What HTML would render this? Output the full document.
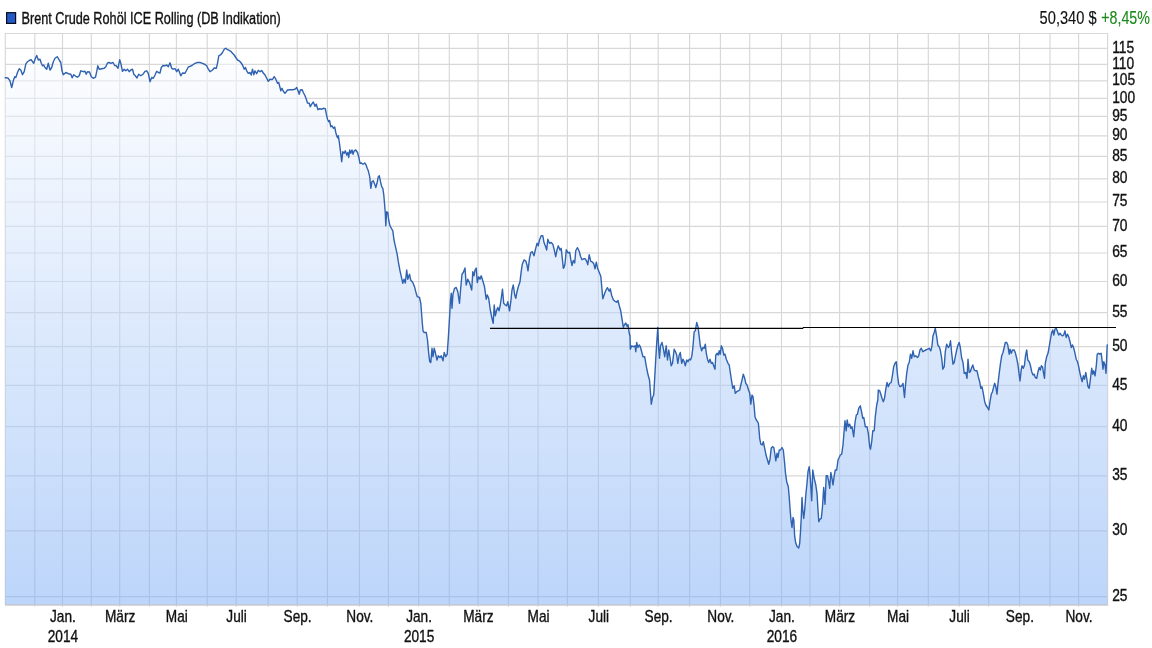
<!DOCTYPE html>
<html lang="de"><head><meta charset="utf-8"><title>Brent Crude Rohöl ICE Rolling (DB Indikation)</title>
<style>
html,body{margin:0;padding:0;background:#fff;}
body{width:1152px;height:648px;overflow:hidden;font-family:"Liberation Sans",sans-serif;}
svg{display:block;}
text{font-family:"Liberation Sans",sans-serif;fill:#111;stroke:#111;stroke-width:0.35px;}
.ax{font-size:15.7px;}
.ay{font-size:15.6px;}
.g{stroke:#d8d8d8;stroke-width:1.15;fill:none;}
</style></head><body>
<svg width="1152" height="648" viewBox="0 0 1152 648">
<defs>
<linearGradient id="fg" gradientUnits="userSpaceOnUse" x1="0" y1="33" x2="0" y2="605">
<stop offset="0" stop-color="#ffffff" stop-opacity="0.5"/>
<stop offset="1" stop-color="#79abf5" stop-opacity="0.5"/>
</linearGradient>
</defs>
<rect width="1152" height="648" fill="#fff"/>
<path class="g" d="M34.8,33.5 V606.6999999999999 M62.5,33.5 V606.6999999999999 M91.3,33.5 V606.6999999999999 M119.7,33.5 V606.6999999999999 M149.4,33.5 V606.6999999999999 M176.4,33.5 V606.6999999999999 M207.2,33.5 V606.6999999999999 M236.2,33.5 V606.6999999999999 M268.2,33.5 V606.6999999999999 M297.2,33.5 V606.6999999999999 M327.4,33.5 V606.6999999999999 M359.4,33.5 V606.6999999999999 M388.4,33.5 V606.6999999999999 M418.7,33.5 V606.6999999999999 M449.3,33.5 V606.6999999999999 M478,33.5 V606.6999999999999 M508.5,33.5 V606.6999999999999 M538.1,33.5 V606.6999999999999 M567.4,33.5 V606.6999999999999 M598.4,33.5 V606.6999999999999 M630.3,33.5 V606.6999999999999 M658.2,33.5 V606.6999999999999 M689.6,33.5 V606.6999999999999 M720.4,33.5 V606.6999999999999 M749.7,33.5 V606.6999999999999 M781.5,33.5 V606.6999999999999 M810,33.5 V606.6999999999999 M839.6,33.5 V606.6999999999999 M869.6,33.5 V606.6999999999999 M897.6,33.5 V606.6999999999999 M928.3,33.5 V606.6999999999999 M959.2,33.5 V606.6999999999999 M988.6,33.5 V606.6999999999999 M1019.5,33.5 V606.6999999999999 M1050,33.5 V606.6999999999999 M1078.6,33.5 V606.6999999999999 M5.3,48.3 H1107.6 M5.3,64.4 H1107.6 M5.3,80.9 H1107.6 M5.3,98.4 H1107.6 M5.3,116.4 H1107.6 M5.3,135.8 H1107.6 M5.3,156.3 H1107.6 M5.3,178.8 H1107.6 M5.3,202 H1107.6 M5.3,226.3 H1107.6 M5.3,253 H1107.6 M5.3,281.5 H1107.6 M5.3,312.6 H1107.6 M5.3,346.6 H1107.6 M5.3,385.4 H1107.6 M5.3,426.6 H1107.6 M5.3,475.8 H1107.6 M5.3,530.8 H1107.6 M5.3,596.6 H1107.6"/>
<path class="g" d="M5.3,604.3 V33.5 H1107.6 V604.3" />
<path d="M4.8999999999999995,604.9 H1108.1999999999998" stroke="#cdcdd2" stroke-width="1.7" fill="none"/>
<path d="M5.3,77.8 L6.3,77.8 L8.3,78.3 L10.0,80.8 L11.7,87.5 L13.3,80.8 L14.7,76.7 L15.8,77.5 L17.5,72.5 L19.2,68.7 L20.8,70.0 L22.5,74.7 L24.2,71.7 L25.8,64.2 L27.5,61.7 L29.2,60.5 L31.2,59.7 L32.5,61.7 L33.8,63.3 L35.0,59.2 L36.7,55.5 L38.3,60.0 L40.0,59.2 L41.3,63.3 L42.5,65.8 L43.7,65.0 L45.0,67.5 L46.7,69.2 L48.3,63.3 L50.0,70.0 L51.7,67.5 L53.3,61.7 L55.0,58.3 L57.2,56.7 L59.2,60.0 L60.8,62.5 L62.0,70.8 L63.3,74.7 L65.8,72.5 L68.3,73.7 L70.8,74.2 L72.2,77.8 L73.7,74.7 L75.8,76.3 L77.5,77.2 L79.2,75.8 L80.8,70.8 L83.3,71.7 L85.0,71.3 L86.2,74.2 L87.5,71.7 L89.5,72.0 L91.3,76.7 L93.3,78.3 L95.5,77.2 L96.7,71.7 L97.8,65.8 L99.2,69.2 L101.7,68.7 L104.2,68.3 L105.8,66.7 L107.5,63.0 L109.2,62.5 L110.8,63.3 L113.0,62.5 L114.7,65.5 L116.3,65.8 L118.0,68.3 L119.7,59.7 L120.8,63.3 L122.5,71.3 L124.2,69.2 L125.8,70.8 L127.5,69.2 L129.2,71.7 L130.8,70.0 L132.5,69.2 L133.8,74.2 L135.3,75.8 L137.0,78.0 L138.7,74.2 L140.8,75.8 L143.0,74.2 L145.0,71.3 L146.7,70.8 L148.3,73.3 L150.0,81.7 L151.7,77.5 L153.3,78.3 L155.0,75.0 L156.7,71.3 L158.3,72.5 L160.0,73.0 L161.3,67.5 L163.0,65.5 L165.0,65.8 L166.7,65.0 L168.3,66.7 L170.0,62.8 L171.7,68.3 L173.3,69.2 L175.0,68.7 L176.7,71.7 L178.3,69.2 L180.8,75.8 L182.5,73.0 L185.0,73.3 L186.7,70.0 L188.3,67.0 L190.0,66.3 L192.0,65.5 L192.5,65.0 L195.0,63.3 L197.5,62.5 L200.0,62.5 L202.5,63.3 L205.0,64.5 L206.7,65.8 L208.3,69.2 L210.0,71.7 L212.5,70.0 L214.2,68.0 L216.3,68.3 L217.5,63.3 L218.8,55.8 L220.8,54.7 L222.5,52.5 L224.2,49.2 L225.8,48.3 L227.5,49.7 L229.2,50.3 L230.8,51.3 L232.5,53.3 L234.2,55.0 L235.8,57.5 L237.5,60.0 L239.2,60.8 L240.8,62.5 L242.5,65.0 L244.2,69.2 L245.5,67.5 L246.7,70.8 L248.3,73.3 L250.0,72.5 L251.2,75.0 L252.5,69.2 L253.8,74.7 L255.0,70.8 L256.7,73.7 L258.3,70.3 L260.0,71.7 L261.7,70.5 L263.3,73.0 L265.0,75.0 L266.7,78.3 L268.3,81.3 L270.0,79.2 L272.5,79.5 L274.2,76.7 L275.8,79.2 L277.5,83.3 L278.7,82.5 L280.0,87.5 L280.8,90.8 L282.0,88.3 L283.3,91.3 L285.0,93.3 L287.5,90.0 L290.0,89.7 L292.5,89.7 L295.0,89.2 L296.7,87.5 L298.0,90.8 L299.2,94.2 L300.3,90.0 L302.2,89.7 L303.3,92.5 L305.0,95.8 L306.3,99.2 L307.5,103.0 L309.2,103.3 L310.3,106.7 L311.7,104.2 L313.3,102.0 L315.0,106.3 L316.3,104.2 L318.0,109.7 L319.7,108.7 L321.7,109.2 L323.3,108.3 L325.3,108.7 L326.3,114.2 L327.5,119.2 L328.7,121.7 L329.5,120.5 L330.8,126.7 L332.0,125.8 L333.3,128.3 L334.7,127.0 L335.8,132.5 L337.0,136.7 L337.8,138.0 L338.3,135.8 L339.5,143.3 L340.5,151.7 L341.7,161.7 L342.8,151.7 L344.2,153.3 L345.3,150.8 L346.7,155.0 L347.8,152.5 L348.7,157.5 L349.7,150.0 L350.8,153.3 L352.0,150.0 L353.0,154.2 L354.2,150.8 L355.8,150.0 L357.5,152.5 L358.7,156.7 L360.0,163.3 L361.3,163.0 L363.0,164.2 L364.7,163.0 L366.0,164.7 L367.2,168.3 L368.3,170.8 L369.7,176.7 L370.8,188.3 L372.0,181.7 L373.3,180.8 L374.7,184.2 L375.8,187.5 L377.0,183.3 L378.3,176.7 L379.3,175.8 L380.5,181.7 L381.7,186.7 L382.8,188.3 L383.8,195.0 L384.5,203.3 L385.3,213.3 L385.8,225.8 L386.7,211.7 L387.8,212.5 L388.7,220.0 L390.0,225.8 L391.2,228.0 L392.8,230.8 L394.0,240.0 L395.3,245.8 L397.0,253.3 L398.3,261.7 L400.0,270.8 L401.7,278.3 L402.8,283.3 L404.0,279.2 L405.3,283.0 L406.7,270.0 L407.8,279.2 L409.5,274.2 L410.7,280.0 L412.8,282.5 L414.5,286.7 L416.2,293.3 L417.3,296.7 L419.5,297.5 L420.8,303.3 L421.7,315.0 L422.3,323.0 L423.0,330.8 L424.2,332.5 L426.3,332.5 L427.5,340.0 L428.7,353.3 L429.7,361.7 L430.8,362.5 L432.0,348.3 L433.0,356.7 L434.2,348.3 L435.5,353.3 L437.0,360.0 L438.3,355.8 L440.0,357.5 L441.3,355.8 L443.0,360.8 L444.2,352.5 L445.8,356.7 L447.2,354.2 L448.3,338.3 L449.5,318.3 L450.5,300.0 L451.3,293.3 L452.0,308.3 L453.0,294.2 L454.5,288.3 L456.2,287.5 L457.8,291.7 L459.5,303.3 L460.7,288.3 L462.0,274.2 L463.3,272.5 L465.0,268.0 L466.2,285.0 L467.8,279.2 L469.5,282.5 L471.7,290.0 L472.8,271.7 L474.0,275.8 L475.0,270.0 L476.2,268.0 L477.3,282.5 L478.7,276.7 L480.0,279.2 L481.2,275.8 L482.8,280.8 L484.5,286.7 L486.2,299.2 L487.3,295.0 L488.7,298.3 L490.3,310.0 L492.0,318.3 L493.2,323.3 L494.2,305.0 L495.3,315.8 L496.7,310.0 L497.8,307.5 L499.0,310.8 L500.3,305.0 L501.5,296.7 L502.5,289.2 L503.7,303.3 L505.3,305.0 L506.7,305.8 L507.8,301.7 L509.5,310.8 L510.8,301.7 L512.0,290.0 L513.3,285.0 L514.7,295.0 L515.8,298.3 L517.0,291.7 L518.3,286.7 L520.0,281.7 L521.2,271.7 L522.3,264.2 L524.0,260.0 L525.7,260.8 L527.0,265.0 L528.0,270.8 L529.5,258.3 L530.8,252.5 L532.3,251.7 L534.0,255.8 L535.3,250.0 L537.0,243.3 L538.2,245.8 L539.5,240.0 L541.2,235.8 L542.8,235.8 L544.0,242.5 L545.3,245.8 L546.7,250.0 L547.8,239.2 L549.5,243.3 L551.2,242.5 L552.8,244.2 L554.5,250.8 L555.7,256.7 L557.0,250.0 L558.3,245.8 L560.0,250.0 L561.2,248.3 L562.3,258.3 L563.3,268.3 L564.0,267.5 L565.0,263.8 L566.3,249.7 L568.0,253.0 L569.7,252.2 L570.8,259.7 L572.0,265.5 L573.3,260.5 L574.7,263.0 L575.8,250.5 L577.5,247.7 L579.2,251.3 L580.5,256.3 L582.0,259.7 L583.7,258.8 L585.3,258.8 L586.7,261.3 L587.8,264.7 L589.2,254.7 L590.8,261.3 L592.5,262.2 L593.8,263.8 L595.0,268.8 L596.3,262.2 L597.5,268.0 L599.2,272.2 L600.8,276.3 L601.7,286.3 L602.8,298.8 L604.2,294.7 L605.8,290.5 L607.5,287.7 L609.2,291.3 L610.3,288.8 L611.7,295.5 L613.3,299.7 L615.0,301.3 L616.7,302.2 L618.0,300.5 L619.2,305.5 L620.8,311.3 L622.0,318.8 L623.3,327.2 L624.5,324.7 L625.8,323.0 L627.0,326.3 L628.0,324.7 L629.2,333.0 L630.0,336.0 L630.3,349.2 L631.7,345.8 L633.3,346.7 L635.0,345.8 L635.8,351.7 L636.7,342.5 L638.0,347.5 L639.2,345.0 L640.3,346.7 L641.7,351.7 L643.0,356.7 L644.7,356.7 L645.8,363.3 L647.0,370.0 L648.3,375.8 L649.5,380.0 L650.5,393.3 L651.3,404.2 L652.5,397.5 L653.7,395.0 L654.7,378.3 L655.8,358.3 L656.7,343.3 L657.8,327.5 L658.7,348.3 L659.5,358.3 L660.5,345.8 L662.0,342.5 L663.3,348.3 L664.7,356.7 L666.2,345.8 L667.5,360.0 L668.8,350.0 L670.0,357.5 L671.2,365.8 L672.5,363.3 L674.2,349.2 L675.5,351.7 L676.7,355.0 L677.8,363.3 L679.2,355.0 L680.3,352.5 L681.7,363.3 L683.0,359.2 L684.2,361.7 L685.3,365.8 L686.7,360.0 L688.0,361.7 L689.2,359.2 L690.5,360.0 L691.7,356.7 L692.8,348.3 L694.2,331.7 L695.3,330.8 L696.7,322.5 L698.0,326.7 L699.2,336.7 L700.3,345.8 L701.7,350.8 L703.0,347.5 L704.2,348.3 L705.3,344.2 L706.3,353.3 L707.5,359.2 L708.7,362.5 L710.0,359.2 L711.3,363.3 L712.5,362.5 L713.7,365.8 L715.0,369.2 L715.8,355.0 L717.2,353.3 L718.3,355.0 L719.2,350.8 L720.3,354.2 L721.3,345.8 L722.5,348.3 L723.8,355.0 L725.0,354.2 L726.3,359.2 L728.0,363.3 L729.2,365.0 L730.3,372.5 L731.7,381.7 L732.8,388.3 L734.2,385.8 L735.3,393.3 L736.7,391.7 L738.3,390.8 L739.7,390.0 L740.8,385.0 L742.2,379.2 L743.3,374.2 L744.7,378.3 L745.8,383.3 L747.0,385.0 L748.3,389.2 L749.7,393.3 L750.8,404.2 L752.0,395.0 L753.0,396.7 L754.2,406.7 L755.0,416.7 L756.3,420.0 L757.5,421.7 L758.3,423.0 L758.7,426.7 L759.7,438.3 L760.8,444.2 L762.2,445.0 L763.3,441.7 L764.7,448.3 L766.2,455.8 L767.5,460.0 L768.7,464.2 L770.0,459.2 L771.2,448.3 L772.5,446.7 L773.8,447.5 L775.0,455.0 L775.8,460.8 L777.0,453.3 L778.0,457.5 L779.2,450.0 L780.5,450.0 L782.0,447.5 L783.3,450.0 L784.5,461.7 L785.5,473.3 L786.7,481.7 L788.3,486.7 L789.2,496.7 L790.0,508.0 L790.8,518.3 L792.0,527.5 L793.0,517.5 L793.8,520.0 L794.7,536.7 L795.8,543.3 L797.2,546.7 L798.7,548.0 L799.7,543.3 L800.5,531.7 L801.3,516.7 L802.0,497.5 L802.8,510.0 L803.7,518.3 L804.7,510.0 L805.8,495.0 L807.0,483.3 L808.0,471.7 L809.2,466.7 L810.3,478.3 L811.7,500.8 L812.8,470.0 L814.2,478.3 L815.8,485.0 L817.0,493.3 L818.0,510.0 L818.8,521.7 L820.0,519.2 L821.3,518.3 L822.5,506.7 L823.7,487.5 L825.0,504.2 L826.2,475.8 L827.5,475.8 L828.7,481.7 L829.7,488.3 L830.8,472.5 L832.0,478.3 L833.0,485.0 L834.2,475.8 L835.3,470.0 L836.7,470.0 L838.0,460.0 L839.2,457.5 L840.3,455.0 L841.7,454.2 L843.0,445.0 L844.2,430.0 L845.0,420.8 L846.2,430.8 L847.2,420.0 L848.3,426.7 L849.7,424.2 L850.8,428.3 L852.0,426.7 L853.7,436.7 L855.0,422.5 L856.3,415.0 L857.5,414.2 L858.7,408.3 L860.3,405.8 L861.7,412.5 L862.8,418.3 L863.8,417.5 L865.3,426.7 L867.0,426.7 L868.3,433.3 L869.7,446.7 L870.5,449.2 L871.7,441.7 L872.8,430.8 L874.2,430.8 L875.3,416.7 L876.7,405.0 L877.8,400.0 L878.3,390.0 L879.7,390.8 L880.8,394.2 L882.0,398.3 L883.3,401.7 L884.5,398.3 L885.8,389.2 L887.0,382.5 L888.3,386.7 L889.7,383.3 L891.2,382.5 L892.5,375.0 L893.7,366.7 L895.0,363.3 L896.3,361.7 L897.5,375.0 L898.7,384.2 L900.0,386.7 L901.7,385.8 L903.0,383.3 L904.5,397.5 L905.5,385.0 L906.7,373.3 L908.0,365.0 L909.2,362.5 L910.5,354.2 L911.7,358.3 L913.0,350.8 L914.2,356.7 L915.8,355.8 L917.5,357.5 L918.7,355.8 L920.0,350.0 L921.3,348.3 L922.8,351.7 L924.2,350.8 L925.8,350.0 L927.5,349.2 L929.2,348.3 L930.8,350.8 L932.0,345.8 L933.0,335.8 L934.2,332.5 L935.3,328.3 L936.7,336.7 L937.8,345.0 L939.2,346.7 L940.3,350.0 L941.7,358.3 L942.8,369.2 L944.2,366.7 L945.3,351.7 L946.7,344.2 L948.3,347.5 L949.5,345.8 L950.5,340.8 L951.7,353.3 L953.0,364.2 L954.2,362.5 L955.3,356.7 L956.7,350.0 L958.0,345.0 L959.2,342.5 L960.3,347.5 L961.7,358.3 L963.0,362.5 L964.2,373.3 L965.8,372.5 L967.0,378.3 L968.0,359.2 L969.2,372.5 L970.3,371.7 L971.7,367.5 L972.8,365.0 L974.2,370.0 L975.3,370.8 L977.0,370.8 L978.3,376.7 L979.7,381.7 L980.8,388.3 L982.0,386.7 L983.3,393.3 L984.7,401.7 L985.8,405.0 L987.5,407.5 L988.8,410.0 L990.0,401.7 L991.3,394.2 L992.5,391.7 L993.7,386.7 L994.7,383.3 L995.8,386.7 L997.0,394.2 L998.0,383.3 L999.2,373.3 L1000.5,363.3 L1001.7,355.8 L1003.0,352.5 L1004.2,347.5 L1005.3,342.5 L1006.7,342.5 L1007.8,345.0 L1009.2,354.2 L1010.0,349.2 L1011.3,353.3 L1012.5,350.0 L1014.2,350.0 L1015.5,353.3 L1016.7,358.3 L1018.0,365.0 L1019.2,375.0 L1020.0,380.8 L1021.2,370.0 L1022.0,365.8 L1023.3,368.3 L1024.5,365.0 L1025.5,355.8 L1026.7,350.0 L1027.8,360.0 L1029.2,361.7 L1030.3,365.0 L1031.7,371.7 L1033.0,375.0 L1034.2,374.2 L1035.3,377.5 L1036.7,378.3 L1038.0,371.7 L1039.2,367.5 L1040.3,370.0 L1041.3,365.8 L1042.0,366.7 L1042.5,366.7 L1043.3,371.7 L1044.5,378.3 L1045.3,363.3 L1046.7,356.7 L1048.0,353.3 L1049.2,346.7 L1050.3,340.0 L1051.7,332.5 L1052.8,330.0 L1053.8,335.0 L1055.0,329.2 L1056.3,328.3 L1057.5,331.7 L1058.7,335.0 L1060.0,333.3 L1061.3,335.0 L1062.5,335.8 L1063.7,335.0 L1065.0,330.8 L1066.2,337.5 L1067.5,334.2 L1068.7,336.7 L1070.0,341.7 L1071.3,347.5 L1072.5,345.0 L1073.8,348.3 L1075.0,353.3 L1076.2,359.2 L1077.5,361.7 L1078.7,366.7 L1080.0,373.3 L1081.2,378.3 L1082.2,381.7 L1083.3,375.8 L1084.5,379.2 L1085.8,372.5 L1087.0,380.0 L1088.0,386.7 L1089.2,388.3 L1090.3,380.0 L1091.7,368.3 L1092.8,374.2 L1093.8,370.8 L1095.0,375.8 L1096.2,366.7 L1097.2,354.2 L1098.3,353.3 L1099.7,354.2 L1101.2,353.3 L1102.2,361.7 L1103.0,369.2 L1103.8,361.7 L1105.0,365.0 L1106.0,373.3 L1106.7,356.7 L1107.2,345.0 L1107.4,345.0 L1107.4,604.3 L5.3,604.3 Z" fill="url(#fg)"/>
<path d="M5.3,77.8 L6.3,77.8 L8.3,78.3 L10.0,80.8 L11.7,87.5 L13.3,80.8 L14.7,76.7 L15.8,77.5 L17.5,72.5 L19.2,68.7 L20.8,70.0 L22.5,74.7 L24.2,71.7 L25.8,64.2 L27.5,61.7 L29.2,60.5 L31.2,59.7 L32.5,61.7 L33.8,63.3 L35.0,59.2 L36.7,55.5 L38.3,60.0 L40.0,59.2 L41.3,63.3 L42.5,65.8 L43.7,65.0 L45.0,67.5 L46.7,69.2 L48.3,63.3 L50.0,70.0 L51.7,67.5 L53.3,61.7 L55.0,58.3 L57.2,56.7 L59.2,60.0 L60.8,62.5 L62.0,70.8 L63.3,74.7 L65.8,72.5 L68.3,73.7 L70.8,74.2 L72.2,77.8 L73.7,74.7 L75.8,76.3 L77.5,77.2 L79.2,75.8 L80.8,70.8 L83.3,71.7 L85.0,71.3 L86.2,74.2 L87.5,71.7 L89.5,72.0 L91.3,76.7 L93.3,78.3 L95.5,77.2 L96.7,71.7 L97.8,65.8 L99.2,69.2 L101.7,68.7 L104.2,68.3 L105.8,66.7 L107.5,63.0 L109.2,62.5 L110.8,63.3 L113.0,62.5 L114.7,65.5 L116.3,65.8 L118.0,68.3 L119.7,59.7 L120.8,63.3 L122.5,71.3 L124.2,69.2 L125.8,70.8 L127.5,69.2 L129.2,71.7 L130.8,70.0 L132.5,69.2 L133.8,74.2 L135.3,75.8 L137.0,78.0 L138.7,74.2 L140.8,75.8 L143.0,74.2 L145.0,71.3 L146.7,70.8 L148.3,73.3 L150.0,81.7 L151.7,77.5 L153.3,78.3 L155.0,75.0 L156.7,71.3 L158.3,72.5 L160.0,73.0 L161.3,67.5 L163.0,65.5 L165.0,65.8 L166.7,65.0 L168.3,66.7 L170.0,62.8 L171.7,68.3 L173.3,69.2 L175.0,68.7 L176.7,71.7 L178.3,69.2 L180.8,75.8 L182.5,73.0 L185.0,73.3 L186.7,70.0 L188.3,67.0 L190.0,66.3 L192.0,65.5 L192.5,65.0 L195.0,63.3 L197.5,62.5 L200.0,62.5 L202.5,63.3 L205.0,64.5 L206.7,65.8 L208.3,69.2 L210.0,71.7 L212.5,70.0 L214.2,68.0 L216.3,68.3 L217.5,63.3 L218.8,55.8 L220.8,54.7 L222.5,52.5 L224.2,49.2 L225.8,48.3 L227.5,49.7 L229.2,50.3 L230.8,51.3 L232.5,53.3 L234.2,55.0 L235.8,57.5 L237.5,60.0 L239.2,60.8 L240.8,62.5 L242.5,65.0 L244.2,69.2 L245.5,67.5 L246.7,70.8 L248.3,73.3 L250.0,72.5 L251.2,75.0 L252.5,69.2 L253.8,74.7 L255.0,70.8 L256.7,73.7 L258.3,70.3 L260.0,71.7 L261.7,70.5 L263.3,73.0 L265.0,75.0 L266.7,78.3 L268.3,81.3 L270.0,79.2 L272.5,79.5 L274.2,76.7 L275.8,79.2 L277.5,83.3 L278.7,82.5 L280.0,87.5 L280.8,90.8 L282.0,88.3 L283.3,91.3 L285.0,93.3 L287.5,90.0 L290.0,89.7 L292.5,89.7 L295.0,89.2 L296.7,87.5 L298.0,90.8 L299.2,94.2 L300.3,90.0 L302.2,89.7 L303.3,92.5 L305.0,95.8 L306.3,99.2 L307.5,103.0 L309.2,103.3 L310.3,106.7 L311.7,104.2 L313.3,102.0 L315.0,106.3 L316.3,104.2 L318.0,109.7 L319.7,108.7 L321.7,109.2 L323.3,108.3 L325.3,108.7 L326.3,114.2 L327.5,119.2 L328.7,121.7 L329.5,120.5 L330.8,126.7 L332.0,125.8 L333.3,128.3 L334.7,127.0 L335.8,132.5 L337.0,136.7 L337.8,138.0 L338.3,135.8 L339.5,143.3 L340.5,151.7 L341.7,161.7 L342.8,151.7 L344.2,153.3 L345.3,150.8 L346.7,155.0 L347.8,152.5 L348.7,157.5 L349.7,150.0 L350.8,153.3 L352.0,150.0 L353.0,154.2 L354.2,150.8 L355.8,150.0 L357.5,152.5 L358.7,156.7 L360.0,163.3 L361.3,163.0 L363.0,164.2 L364.7,163.0 L366.0,164.7 L367.2,168.3 L368.3,170.8 L369.7,176.7 L370.8,188.3 L372.0,181.7 L373.3,180.8 L374.7,184.2 L375.8,187.5 L377.0,183.3 L378.3,176.7 L379.3,175.8 L380.5,181.7 L381.7,186.7 L382.8,188.3 L383.8,195.0 L384.5,203.3 L385.3,213.3 L385.8,225.8 L386.7,211.7 L387.8,212.5 L388.7,220.0 L390.0,225.8 L391.2,228.0 L392.8,230.8 L394.0,240.0 L395.3,245.8 L397.0,253.3 L398.3,261.7 L400.0,270.8 L401.7,278.3 L402.8,283.3 L404.0,279.2 L405.3,283.0 L406.7,270.0 L407.8,279.2 L409.5,274.2 L410.7,280.0 L412.8,282.5 L414.5,286.7 L416.2,293.3 L417.3,296.7 L419.5,297.5 L420.8,303.3 L421.7,315.0 L422.3,323.0 L423.0,330.8 L424.2,332.5 L426.3,332.5 L427.5,340.0 L428.7,353.3 L429.7,361.7 L430.8,362.5 L432.0,348.3 L433.0,356.7 L434.2,348.3 L435.5,353.3 L437.0,360.0 L438.3,355.8 L440.0,357.5 L441.3,355.8 L443.0,360.8 L444.2,352.5 L445.8,356.7 L447.2,354.2 L448.3,338.3 L449.5,318.3 L450.5,300.0 L451.3,293.3 L452.0,308.3 L453.0,294.2 L454.5,288.3 L456.2,287.5 L457.8,291.7 L459.5,303.3 L460.7,288.3 L462.0,274.2 L463.3,272.5 L465.0,268.0 L466.2,285.0 L467.8,279.2 L469.5,282.5 L471.7,290.0 L472.8,271.7 L474.0,275.8 L475.0,270.0 L476.2,268.0 L477.3,282.5 L478.7,276.7 L480.0,279.2 L481.2,275.8 L482.8,280.8 L484.5,286.7 L486.2,299.2 L487.3,295.0 L488.7,298.3 L490.3,310.0 L492.0,318.3 L493.2,323.3 L494.2,305.0 L495.3,315.8 L496.7,310.0 L497.8,307.5 L499.0,310.8 L500.3,305.0 L501.5,296.7 L502.5,289.2 L503.7,303.3 L505.3,305.0 L506.7,305.8 L507.8,301.7 L509.5,310.8 L510.8,301.7 L512.0,290.0 L513.3,285.0 L514.7,295.0 L515.8,298.3 L517.0,291.7 L518.3,286.7 L520.0,281.7 L521.2,271.7 L522.3,264.2 L524.0,260.0 L525.7,260.8 L527.0,265.0 L528.0,270.8 L529.5,258.3 L530.8,252.5 L532.3,251.7 L534.0,255.8 L535.3,250.0 L537.0,243.3 L538.2,245.8 L539.5,240.0 L541.2,235.8 L542.8,235.8 L544.0,242.5 L545.3,245.8 L546.7,250.0 L547.8,239.2 L549.5,243.3 L551.2,242.5 L552.8,244.2 L554.5,250.8 L555.7,256.7 L557.0,250.0 L558.3,245.8 L560.0,250.0 L561.2,248.3 L562.3,258.3 L563.3,268.3 L564.0,267.5 L565.0,263.8 L566.3,249.7 L568.0,253.0 L569.7,252.2 L570.8,259.7 L572.0,265.5 L573.3,260.5 L574.7,263.0 L575.8,250.5 L577.5,247.7 L579.2,251.3 L580.5,256.3 L582.0,259.7 L583.7,258.8 L585.3,258.8 L586.7,261.3 L587.8,264.7 L589.2,254.7 L590.8,261.3 L592.5,262.2 L593.8,263.8 L595.0,268.8 L596.3,262.2 L597.5,268.0 L599.2,272.2 L600.8,276.3 L601.7,286.3 L602.8,298.8 L604.2,294.7 L605.8,290.5 L607.5,287.7 L609.2,291.3 L610.3,288.8 L611.7,295.5 L613.3,299.7 L615.0,301.3 L616.7,302.2 L618.0,300.5 L619.2,305.5 L620.8,311.3 L622.0,318.8 L623.3,327.2 L624.5,324.7 L625.8,323.0 L627.0,326.3 L628.0,324.7 L629.2,333.0 L630.0,336.0 L630.3,349.2 L631.7,345.8 L633.3,346.7 L635.0,345.8 L635.8,351.7 L636.7,342.5 L638.0,347.5 L639.2,345.0 L640.3,346.7 L641.7,351.7 L643.0,356.7 L644.7,356.7 L645.8,363.3 L647.0,370.0 L648.3,375.8 L649.5,380.0 L650.5,393.3 L651.3,404.2 L652.5,397.5 L653.7,395.0 L654.7,378.3 L655.8,358.3 L656.7,343.3 L657.8,327.5 L658.7,348.3 L659.5,358.3 L660.5,345.8 L662.0,342.5 L663.3,348.3 L664.7,356.7 L666.2,345.8 L667.5,360.0 L668.8,350.0 L670.0,357.5 L671.2,365.8 L672.5,363.3 L674.2,349.2 L675.5,351.7 L676.7,355.0 L677.8,363.3 L679.2,355.0 L680.3,352.5 L681.7,363.3 L683.0,359.2 L684.2,361.7 L685.3,365.8 L686.7,360.0 L688.0,361.7 L689.2,359.2 L690.5,360.0 L691.7,356.7 L692.8,348.3 L694.2,331.7 L695.3,330.8 L696.7,322.5 L698.0,326.7 L699.2,336.7 L700.3,345.8 L701.7,350.8 L703.0,347.5 L704.2,348.3 L705.3,344.2 L706.3,353.3 L707.5,359.2 L708.7,362.5 L710.0,359.2 L711.3,363.3 L712.5,362.5 L713.7,365.8 L715.0,369.2 L715.8,355.0 L717.2,353.3 L718.3,355.0 L719.2,350.8 L720.3,354.2 L721.3,345.8 L722.5,348.3 L723.8,355.0 L725.0,354.2 L726.3,359.2 L728.0,363.3 L729.2,365.0 L730.3,372.5 L731.7,381.7 L732.8,388.3 L734.2,385.8 L735.3,393.3 L736.7,391.7 L738.3,390.8 L739.7,390.0 L740.8,385.0 L742.2,379.2 L743.3,374.2 L744.7,378.3 L745.8,383.3 L747.0,385.0 L748.3,389.2 L749.7,393.3 L750.8,404.2 L752.0,395.0 L753.0,396.7 L754.2,406.7 L755.0,416.7 L756.3,420.0 L757.5,421.7 L758.3,423.0 L758.7,426.7 L759.7,438.3 L760.8,444.2 L762.2,445.0 L763.3,441.7 L764.7,448.3 L766.2,455.8 L767.5,460.0 L768.7,464.2 L770.0,459.2 L771.2,448.3 L772.5,446.7 L773.8,447.5 L775.0,455.0 L775.8,460.8 L777.0,453.3 L778.0,457.5 L779.2,450.0 L780.5,450.0 L782.0,447.5 L783.3,450.0 L784.5,461.7 L785.5,473.3 L786.7,481.7 L788.3,486.7 L789.2,496.7 L790.0,508.0 L790.8,518.3 L792.0,527.5 L793.0,517.5 L793.8,520.0 L794.7,536.7 L795.8,543.3 L797.2,546.7 L798.7,548.0 L799.7,543.3 L800.5,531.7 L801.3,516.7 L802.0,497.5 L802.8,510.0 L803.7,518.3 L804.7,510.0 L805.8,495.0 L807.0,483.3 L808.0,471.7 L809.2,466.7 L810.3,478.3 L811.7,500.8 L812.8,470.0 L814.2,478.3 L815.8,485.0 L817.0,493.3 L818.0,510.0 L818.8,521.7 L820.0,519.2 L821.3,518.3 L822.5,506.7 L823.7,487.5 L825.0,504.2 L826.2,475.8 L827.5,475.8 L828.7,481.7 L829.7,488.3 L830.8,472.5 L832.0,478.3 L833.0,485.0 L834.2,475.8 L835.3,470.0 L836.7,470.0 L838.0,460.0 L839.2,457.5 L840.3,455.0 L841.7,454.2 L843.0,445.0 L844.2,430.0 L845.0,420.8 L846.2,430.8 L847.2,420.0 L848.3,426.7 L849.7,424.2 L850.8,428.3 L852.0,426.7 L853.7,436.7 L855.0,422.5 L856.3,415.0 L857.5,414.2 L858.7,408.3 L860.3,405.8 L861.7,412.5 L862.8,418.3 L863.8,417.5 L865.3,426.7 L867.0,426.7 L868.3,433.3 L869.7,446.7 L870.5,449.2 L871.7,441.7 L872.8,430.8 L874.2,430.8 L875.3,416.7 L876.7,405.0 L877.8,400.0 L878.3,390.0 L879.7,390.8 L880.8,394.2 L882.0,398.3 L883.3,401.7 L884.5,398.3 L885.8,389.2 L887.0,382.5 L888.3,386.7 L889.7,383.3 L891.2,382.5 L892.5,375.0 L893.7,366.7 L895.0,363.3 L896.3,361.7 L897.5,375.0 L898.7,384.2 L900.0,386.7 L901.7,385.8 L903.0,383.3 L904.5,397.5 L905.5,385.0 L906.7,373.3 L908.0,365.0 L909.2,362.5 L910.5,354.2 L911.7,358.3 L913.0,350.8 L914.2,356.7 L915.8,355.8 L917.5,357.5 L918.7,355.8 L920.0,350.0 L921.3,348.3 L922.8,351.7 L924.2,350.8 L925.8,350.0 L927.5,349.2 L929.2,348.3 L930.8,350.8 L932.0,345.8 L933.0,335.8 L934.2,332.5 L935.3,328.3 L936.7,336.7 L937.8,345.0 L939.2,346.7 L940.3,350.0 L941.7,358.3 L942.8,369.2 L944.2,366.7 L945.3,351.7 L946.7,344.2 L948.3,347.5 L949.5,345.8 L950.5,340.8 L951.7,353.3 L953.0,364.2 L954.2,362.5 L955.3,356.7 L956.7,350.0 L958.0,345.0 L959.2,342.5 L960.3,347.5 L961.7,358.3 L963.0,362.5 L964.2,373.3 L965.8,372.5 L967.0,378.3 L968.0,359.2 L969.2,372.5 L970.3,371.7 L971.7,367.5 L972.8,365.0 L974.2,370.0 L975.3,370.8 L977.0,370.8 L978.3,376.7 L979.7,381.7 L980.8,388.3 L982.0,386.7 L983.3,393.3 L984.7,401.7 L985.8,405.0 L987.5,407.5 L988.8,410.0 L990.0,401.7 L991.3,394.2 L992.5,391.7 L993.7,386.7 L994.7,383.3 L995.8,386.7 L997.0,394.2 L998.0,383.3 L999.2,373.3 L1000.5,363.3 L1001.7,355.8 L1003.0,352.5 L1004.2,347.5 L1005.3,342.5 L1006.7,342.5 L1007.8,345.0 L1009.2,354.2 L1010.0,349.2 L1011.3,353.3 L1012.5,350.0 L1014.2,350.0 L1015.5,353.3 L1016.7,358.3 L1018.0,365.0 L1019.2,375.0 L1020.0,380.8 L1021.2,370.0 L1022.0,365.8 L1023.3,368.3 L1024.5,365.0 L1025.5,355.8 L1026.7,350.0 L1027.8,360.0 L1029.2,361.7 L1030.3,365.0 L1031.7,371.7 L1033.0,375.0 L1034.2,374.2 L1035.3,377.5 L1036.7,378.3 L1038.0,371.7 L1039.2,367.5 L1040.3,370.0 L1041.3,365.8 L1042.0,366.7 L1042.5,366.7 L1043.3,371.7 L1044.5,378.3 L1045.3,363.3 L1046.7,356.7 L1048.0,353.3 L1049.2,346.7 L1050.3,340.0 L1051.7,332.5 L1052.8,330.0 L1053.8,335.0 L1055.0,329.2 L1056.3,328.3 L1057.5,331.7 L1058.7,335.0 L1060.0,333.3 L1061.3,335.0 L1062.5,335.8 L1063.7,335.0 L1065.0,330.8 L1066.2,337.5 L1067.5,334.2 L1068.7,336.7 L1070.0,341.7 L1071.3,347.5 L1072.5,345.0 L1073.8,348.3 L1075.0,353.3 L1076.2,359.2 L1077.5,361.7 L1078.7,366.7 L1080.0,373.3 L1081.2,378.3 L1082.2,381.7 L1083.3,375.8 L1084.5,379.2 L1085.8,372.5 L1087.0,380.0 L1088.0,386.7 L1089.2,388.3 L1090.3,380.0 L1091.7,368.3 L1092.8,374.2 L1093.8,370.8 L1095.0,375.8 L1096.2,366.7 L1097.2,354.2 L1098.3,353.3 L1099.7,354.2 L1101.2,353.3 L1102.2,361.7 L1103.0,369.2 L1103.8,361.7 L1105.0,365.0 L1106.0,373.3 L1106.7,356.7 L1107.2,345.0 L1107.4,345.0" fill="none" stroke="#2f62b0" stroke-width="1.4" stroke-linejoin="round" stroke-linecap="round"/>
<path d="M490,328.4 H803.3 M802.8,327.5 H1116" stroke="#000" stroke-width="1.1" fill="none"/>
<rect x="6.6" y="12.7" width="9" height="10.7" fill="#235ac3" stroke="#050a1e" stroke-width="1.2"/>
<text x="21.5" y="23.6" font-size="16" textLength="259.3" lengthAdjust="spacingAndGlyphs">Brent Crude Rohöl ICE Rolling (DB Indikation)</text>
<text x="1039.6" y="23.5" font-size="18.4" textLength="57" lengthAdjust="spacingAndGlyphs" style="stroke-width:0.15px">50,340 $</text>
<text x="1101.3" y="23.5" font-size="18.4" textLength="48.6" lengthAdjust="spacingAndGlyphs" style="fill:#1a8a1a;stroke:#1a8a1a;stroke-width:0.15px">+8,45%</text>
<text class="ay" transform="translate(1112.2,52.6) scale(0.885,1)">115</text>
<text class="ay" transform="translate(1112.2,68.7) scale(0.885,1)">110</text>
<text class="ay" transform="translate(1112.2,85.2) scale(0.885,1)">105</text>
<text class="ay" transform="translate(1112.2,102.7) scale(0.885,1)">100</text>
<text class="ay" transform="translate(1112.2,120.7) scale(0.885,1)">95</text>
<text class="ay" transform="translate(1112.2,140.1) scale(0.885,1)">90</text>
<text class="ay" transform="translate(1112.2,160.6) scale(0.885,1)">85</text>
<text class="ay" transform="translate(1112.2,183.1) scale(0.885,1)">80</text>
<text class="ay" transform="translate(1112.2,206.3) scale(0.885,1)">75</text>
<text class="ay" transform="translate(1112.2,230.6) scale(0.885,1)">70</text>
<text class="ay" transform="translate(1112.2,257.3) scale(0.885,1)">65</text>
<text class="ay" transform="translate(1112.2,285.8) scale(0.885,1)">60</text>
<text class="ay" transform="translate(1112.2,316.9) scale(0.885,1)">55</text>
<text class="ay" transform="translate(1112.2,350.9) scale(0.885,1)">50</text>
<text class="ay" transform="translate(1112.2,389.7) scale(0.885,1)">45</text>
<text class="ay" transform="translate(1112.2,430.9) scale(0.885,1)">40</text>
<text class="ay" transform="translate(1112.2,480.1) scale(0.885,1)">35</text>
<text class="ay" transform="translate(1112.2,535.1) scale(0.885,1)">30</text>
<text class="ay" transform="translate(1112.2,600.9) scale(0.885,1)">25</text>
<text class="ax" text-anchor="middle" transform="translate(62.9,621.8) scale(0.87,1)">Jan.</text>
<text class="ax" text-anchor="middle" transform="translate(62.9,641.7) scale(0.87,1)">2014</text>
<text class="ax" text-anchor="middle" transform="translate(120.1,621.8) scale(0.87,1)">März</text>
<text class="ax" text-anchor="middle" transform="translate(176.8,621.8) scale(0.87,1)">Mai</text>
<text class="ax" text-anchor="middle" transform="translate(236.6,621.8) scale(0.87,1)">Juli</text>
<text class="ax" text-anchor="middle" transform="translate(297.6,621.8) scale(0.87,1)">Sep.</text>
<text class="ax" text-anchor="middle" transform="translate(359.8,621.8) scale(0.87,1)">Nov.</text>
<text class="ax" text-anchor="middle" transform="translate(419.1,621.8) scale(0.87,1)">Jan.</text>
<text class="ax" text-anchor="middle" transform="translate(419.1,641.7) scale(0.87,1)">2015</text>
<text class="ax" text-anchor="middle" transform="translate(478.4,621.8) scale(0.87,1)">März</text>
<text class="ax" text-anchor="middle" transform="translate(538.5,621.8) scale(0.87,1)">Mai</text>
<text class="ax" text-anchor="middle" transform="translate(598.8,621.8) scale(0.87,1)">Juli</text>
<text class="ax" text-anchor="middle" transform="translate(658.6,621.8) scale(0.87,1)">Sep.</text>
<text class="ax" text-anchor="middle" transform="translate(720.8,621.8) scale(0.87,1)">Nov.</text>
<text class="ax" text-anchor="middle" transform="translate(781.9,621.8) scale(0.87,1)">Jan.</text>
<text class="ax" text-anchor="middle" transform="translate(781.9,641.7) scale(0.87,1)">2016</text>
<text class="ax" text-anchor="middle" transform="translate(840.0,621.8) scale(0.87,1)">März</text>
<text class="ax" text-anchor="middle" transform="translate(898.0,621.8) scale(0.87,1)">Mai</text>
<text class="ax" text-anchor="middle" transform="translate(959.6,621.8) scale(0.87,1)">Juli</text>
<text class="ax" text-anchor="middle" transform="translate(1019.9,621.8) scale(0.87,1)">Sep.</text>
<text class="ax" text-anchor="middle" transform="translate(1079.0,621.8) scale(0.87,1)">Nov.</text>
</svg>
</body></html>
